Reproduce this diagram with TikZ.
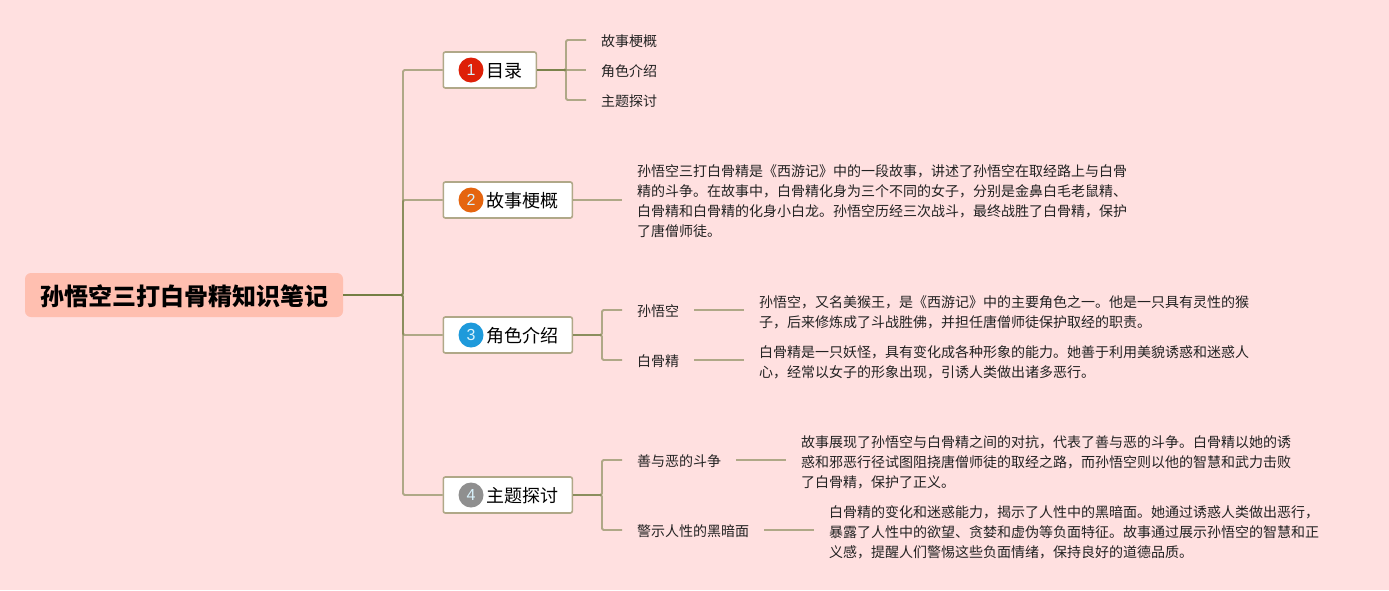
\documentclass[tikz,border=0pt]{standalone}
\usepackage{fontspec}
\setmainfont{Noto Sans CJK SC}
\newfontfamily\digitfont{Liberation Sans}
\definecolor{bgpink}{HTML}{FFE0E0}
\definecolor{rootfill}{HTML}{FFBFB0}
\definecolor{linkolive}{HTML}{6F7A3E}
\definecolor{boxline}{HTML}{B0A888}
\definecolor{inktext}{HTML}{222222}
\definecolor{badgered}{HTML}{DE2008}
\definecolor{badgeorange}{HTML}{E5650F}
\definecolor{badgeblue}{HTML}{1E9ADB}
\definecolor{badgegrey}{HTML}{8F8F8F}
\tikzset{
	rootbox/.style={rectangle, rounded corners=6pt, fill=rootfill, text=black, minimum width=318pt, minimum height=44pt, inner sep=0pt, text height=23pt, text depth=1.8pt, font=\fontsize{24}{24}\selectfont\bfseries},
	topicbox/.style={rectangle, rounded corners=2pt, draw=boxline, line width=1.6pt, fill=white, text=black, minimum height=36pt, inner xsep=14pt, inner ysep=0pt, anchor=west, text height=17pt, text depth=1.4pt, font=\fontsize{18}{18}\selectfont},
	badge/.style={circle, minimum size=25pt, inner sep=0pt, text=white!85!cyan, font=\fontsize{16}{16}\selectfont\digitfont},
	leaf/.style={inner xsep=15pt, inner ysep=0pt, anchor=west, text=inktext, text height=15pt, text depth=1.4pt, font=\fontsize{14}{14}\selectfont},
	note/.style={inner xsep=15pt, inner ysep=0pt, anchor=west, align=left, text=inktext, font=\fontsize{14}{20}\selectfont},
	link/.style={draw=linkolive, line width=1.8pt, opacity=.55, rounded corners=1.5pt},
}
\begin{document}
\begin{tikzpicture}[x=1pt, y=-1pt]
\useasboundingbox (0,0) rectangle (1389,590);
\fill[bgpink] (0,0) rectangle (1389,590);
% root and its four topics
\node[rootbox] (root) at (184,295) {孙悟空三打白骨精知识笔记};
\coordinate (trunk) at (403,295);
\node[topicbox] (mulu) at (442.5,70) {\hspace*{29pt}目录};
\node[topicbox] (gushi) at (442.5,200) {\hspace*{29pt}故事梗概};
\node[topicbox] (juese) at (442.5,335) {\hspace*{29pt}角色介绍};
\node[topicbox] (zhuti) at (442.5,495) {\hspace*{29pt}主题探讨};
\node[badge, fill=badgered] (badgea) at (471,70) {1};
\node[badge, fill=badgeorange] (badgeb) at (471,200) {2};
\node[badge, fill=badgeblue] (badgec) at (471,335) {3};
\node[badge, fill=badgegrey] (badged) at (471,495) {4};
\draw[link] (root.east) -- (trunk) |- (mulu.west);
\draw[link] (root.east) -- (trunk) |- (gushi.west);
\draw[link] (root.east) -- (trunk) |- (juese.west);
\draw[link] (root.east) -- (trunk) |- (zhuti.west);
% first topic
\coordinate (stema) at (566,70);
\node[leaf] (leafgushi) at (586,40) {故事梗概};
\node[leaf] (leafjuese) at (586,70) {角色介绍};
\node[leaf] (leafzhuti) at (586,100) {主题探讨};
\draw[link] (mulu.east) -- (stema) |- (leafgushi.west);
\draw[link] (mulu.east) -- (leafjuese.west);
\draw[link] (mulu.east) -- (stema) |- (leafzhuti.west);
% second topic
\node[note] (notegushi) at (622,201.5) {孙悟空三打白骨精是《西游记》中的一段故事，讲述了孙悟空在取经路上与白骨\\精的斗争。在故事中，白骨精化身为三个不同的女子，分别是金鼻白毛老鼠精、\\白骨精和白骨精的化身小白龙。孙悟空历经三次战斗，最终战胜了白骨精，保护\\了唐僧师徒。};
\draw[link] (gushi.east) -- (gushi.east -| notegushi.west);
% third topic
\coordinate (stemc) at (602,335);
\node[leaf] (wukong) at (622,310) {孙悟空};
\node[leaf] (baigu) at (622,360) {白骨精};
\node[note] (notewukong) at (744,312) {孙悟空，又名美猴王，是《西游记》中的主要角色之一。他是一只具有灵性的猴\\子，后来修炼成了斗战胜佛，并担任唐僧师徒保护取经的职责。};
\node[note] (notebaigu) at (744,362) {白骨精是一只妖怪，具有变化成各种形象的能力。她善于利用美貌诱惑和迷惑人\\心，经常以女子的形象出现，引诱人类做出诸多恶行。};
\draw[link] (juese.east) -- (stemc) |- (wukong.west);
\draw[link] (juese.east) -- (stemc) |- (baigu.west);
\draw[link] (wukong.east) -- (wukong.east -| notewukong.west);
\draw[link] (baigu.east) -- (baigu.east -| notebaigu.west);
% fourth topic
\coordinate (stemd) at (602,495);
\node[leaf] (shane) at (622,460) {善与恶的斗争};
\node[leaf] (jingshi) at (622,530) {警示人性的黑暗面};
\node[note] (noteshane) at (786,462) {故事展现了孙悟空与白骨精之间的对抗，代表了善与恶的斗争。白骨精以她的诱\\惑和邪恶行径试图阻挠唐僧师徒的取经之路，而孙悟空则以他的智慧和武力击败\\了白骨精，保护了正义。};
\node[note] (notejingshi) at (814,532) {白骨精的变化和迷惑能力，揭示了人性中的黑暗面。她通过诱惑人类做出恶行，\\暴露了人性中的欲望、贪婪和虚伪等负面特征。故事通过展示孙悟空的智慧和正\\义感，提醒人们警惕这些负面情绪，保持良好的道德品质。};
\draw[link] (zhuti.east) -- (stemd) |- (shane.west);
\draw[link] (zhuti.east) -- (stemd) |- (jingshi.west);
\draw[link] (shane.east) -- (shane.east -| noteshane.west);
\draw[link] (jingshi.east) -- (jingshi.east -| notejingshi.west);
\end{tikzpicture}
\end{document}
